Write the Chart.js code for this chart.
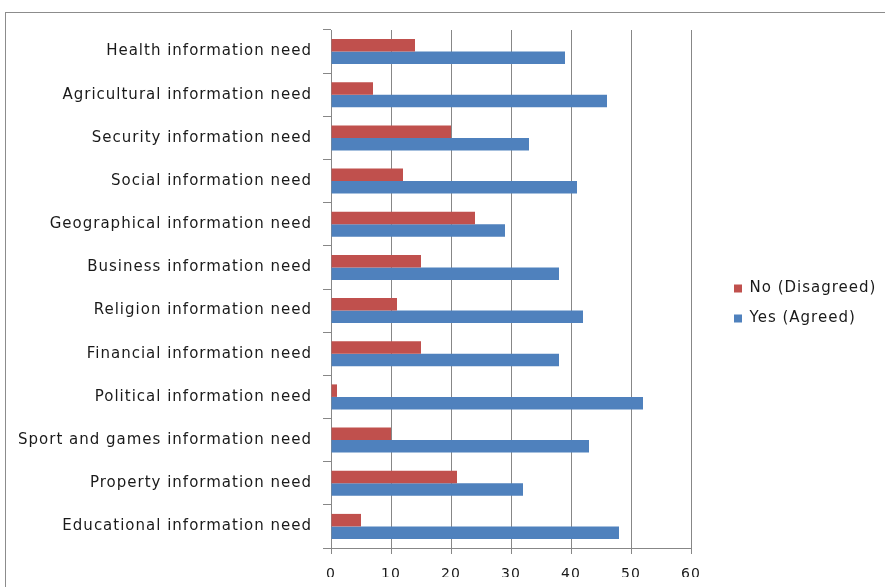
<!DOCTYPE html>
<html>
<head>
<meta charset="utf-8">
<script src="https://cdn.jsdelivr.net/npm/chart.js@4/dist/chart.umd.min.js"></script>
<style>
  html, body { margin: 0; padding: 0; background: #fff; }
  #wrap { position: relative; width: 885px; height: 587px; overflow: hidden; }
  #frame { position: absolute; left: 5px; top: 12px; width: 900px; height: 600px; border: 1px solid #8c8c8c; box-sizing: border-box; }
  canvas { position: absolute; left: 0; top: 0; }
</style>
</head>
<body>
<div id="wrap">
  <div id="frame"></div>
  <canvas id="c" width="885" height="587"></canvas>
</div>
<script>
const categories = [
  "Health information need",
  "Agricultural information need",
  "Security information need",
  "Social information need",
  "Geographical information need",
  "Business information need",
  "Religion information need",
  "Financial information need",
  "Political information need",
  "Sport and games information need",
  "Property information need",
  "Educational information need"
];
const noValues  = [14, 7, 20, 12, 24, 15, 11, 15, 1, 10, 21, 5];
const yesValues = [39, 46, 33, 41, 29, 38, 42, 38, 52, 43, 32, 48];
const seriesNames = ["No (Disagreed)", "Yes (Agreed)"];
const xMin = 0, xMax = 60, xStep = 10;

const FONT = "'DejaVu Sans', sans-serif";
const gridGray = "#878787";

const spacingPlugin = {
  id: 'spacing',
  beforeLayout(chart) { chart.ctx.letterSpacing = '1px'; },
  beforeDraw(chart) { chart.ctx.letterSpacing = '1px'; }
};

new Chart(document.getElementById('c'), {
  type: 'bar',
  plugins: [spacingPlugin],
  data: {
    labels: categories,
    datasets: [
      { label: seriesNames[0], data: noValues, backgroundColor: '#C0504D', borderWidth: 0 },
      { label: seriesNames[1], data: yesValues, backgroundColor: '#4F81BD', borderWidth: 0 }
    ]
  },
  options: {
    indexAxis: 'y',
    responsive: false,
    animation: false,
    devicePixelRatio: 1,
    categoryPercentage: 0.58,
    barPercentage: 1.0,
    layout: { padding: { top: 30, bottom: 10, left: 0, right: 0 } },
    plugins: {
      tooltip: { enabled: false },
      legend: {
        position: 'right',
        maxWidth: 166,
        labels: {
          font: { family: FONT, size: 15 },
          color: '#1a1a1a',
          boxWidth: 8,
          boxHeight: 8,
          padding: 15
        }
      }
    },
    scales: {
      x: {
        min: xMin, max: xMax,
        ticks: { stepSize: xStep, font: { family: FONT, size: 14 }, color: '#1a1a1a', padding: 12 },
        grid: { color: gridGray, lineWidth: 1, tickLength: 6, tickColor: gridGray },
        border: { color: gridGray, width: 1 },
        afterFit: s => { s.height = 29; }
      },
      y: {
        ticks: { font: { family: FONT, size: 15 }, color: '#1a1a1a', padding: 11, autoSkip: false },
        grid: { drawOnChartArea: false, tickLength: 8, color: gridGray, offset: true },
        border: { color: gridGray, width: 1 },
        afterFit: s => { s.width = 331; }
      },
      yGap: {
        type: 'linear',
        position: 'right',
        display: true,
        grid: { display: false },
        border: { display: false },
        ticks: { display: false },
        afterFit: s => { s.width = 28; }
      }
    }
  }
});
</script>
</body>
</html>
